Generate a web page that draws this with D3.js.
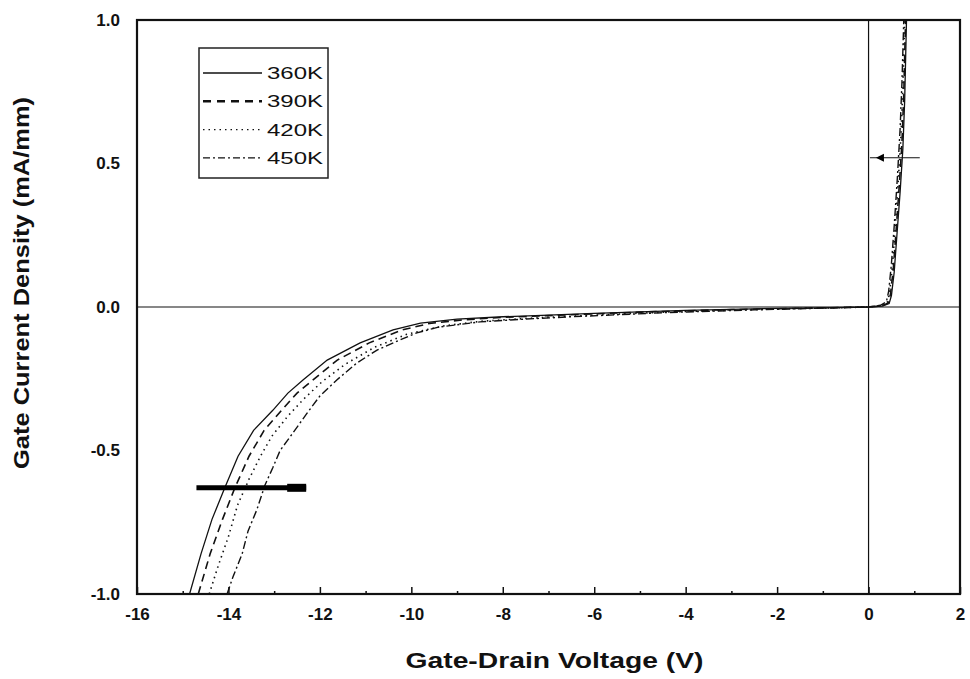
<!DOCTYPE html>
<html>
<head>
<meta charset="utf-8">
<script src="https://cdn.jsdelivr.net/npm/d3@7/dist/d3.min.js"></script>
<style>
  html, body { margin: 0; padding: 0; background: #fff; }
  svg { display: block; }
  text { font-family: "Liberation Sans", Arial, sans-serif; fill: #111; }
</style>
</head>
<body>
<svg id="chart" width="970" height="679"></svg>
<script>
// Gate current density vs gate-drain voltage at four temperatures
const temps = ["360K", "390K", "420K", "450K"];

const v360 = [-14.85, -14.6, -14.36, -14.08, -13.79, -13.45, -13.03, -12.7, -12.37, -11.84, -11.12, -10.4, -9.8, -9.0, -8.0, -7.0, -6.0, -5.0, -4.0, -3.0, -2.0, -1.0, 0.0, 0.3, 0.45, 0.5, 0.56, 0.62, 0.69, 0.75, 0.79, 0.81, 0.83];
const i360 = [-1.0, -0.86, -0.74, -0.63, -0.52, -0.43, -0.36, -0.30, -0.254, -0.185, -0.125, -0.08, -0.056, -0.042, -0.034, -0.028, -0.022, -0.017, -0.012, -0.008, -0.005, -0.003, 0.0, 0.003, 0.012, 0.04, 0.12, 0.25, 0.4, 0.55, 0.72, 0.86, 1.0];

const v390 = [-14.66, -14.4, -14.13, -13.86, -13.55, -13.22, -12.84, -12.5, -12.15, -11.62, -10.92, -10.2, -9.6, -8.8, -8.0, -7.0, -6.0, -5.0, -4.0, -3.0, -2.0, -1.0, 0.0, 0.3, 0.43, 0.48, 0.54, 0.6, 0.67, 0.73, 0.77, 0.79, 0.81];
const i390 = [-1.0, -0.86, -0.74, -0.63, -0.52, -0.43, -0.36, -0.30, -0.254, -0.185, -0.125, -0.08, -0.057, -0.044, -0.036, -0.03, -0.024, -0.018, -0.013, -0.009, -0.006, -0.003, 0.0, 0.004, 0.014, 0.045, 0.13, 0.26, 0.42, 0.57, 0.74, 0.87, 1.0];

const v420 = [-14.42, -14.22, -14.0, -13.8, -13.55, -13.3, -13.05, -12.7, -12.35, -11.95, -11.45, -10.8, -10.1, -9.3, -8.5, -7.5, -6.5, -5.5, -4.5, -3.5, -2.5, -1.5, -0.5, 0.0, 0.28, 0.41, 0.46, 0.52, 0.58, 0.65, 0.71, 0.75, 0.77, 0.79];
const i420 = [-1.0, -0.9, -0.8, -0.69, -0.6, -0.52, -0.45, -0.38, -0.32, -0.26, -0.2, -0.14, -0.095, -0.066, -0.05, -0.04, -0.032, -0.025, -0.018, -0.013, -0.009, -0.005, -0.002, 0.0, 0.005, 0.016, 0.05, 0.14, 0.27, 0.44, 0.6, 0.76, 0.88, 1.0];

const v450 = [-14.03, -13.9, -13.7, -13.57, -13.38, -13.2, -13.03, -12.87, -12.7, -12.28, -12.0, -11.63, -11.19, -10.75, -10.25, -9.88, -9.4, -8.5, -7.5, -6.5, -5.5, -4.5, -3.5, -2.5, -1.5, -0.5, 0.0, 0.26, 0.39, 0.44, 0.5, 0.56, 0.63, 0.69, 0.73, 0.75, 0.77];
const i450 = [-1.0, -0.94, -0.86, -0.78, -0.707, -0.62, -0.56, -0.50, -0.463, -0.37, -0.31, -0.254, -0.195, -0.15, -0.115, -0.09, -0.07, -0.052, -0.042, -0.034, -0.027, -0.02, -0.015, -0.01, -0.006, -0.002, 0.0, 0.006, 0.018, 0.055, 0.15, 0.28, 0.45, 0.62, 0.78, 0.89, 1.0];

const xTicks = [-16, -14, -12, -10, -8, -6, -4, -2, 0, 2];
const xMinor = [-15, -13, -11, -9, -7, -5, -3, -1, 1];
const yTicks = [-1.0, -0.5, 0.0, 0.5, 1.0];

// sweep-direction arrows: [V start, V end, I]
const arrowReverse = [-14.7, -12.3, -0.63];
const arrowForward = [1.12, 0.03, 0.52];

const styles = ["none", "8,5", "1.5,4", "8,3,2,3"];
const widths = [1.3, 1.6, 1.6, 1.4];

const m = { left: 137, right: 960, top: 20, bottom: 594 };

const svg = d3.select("#chart");
const x = d3.scaleLinear().domain([-16, 2]).range([m.left, m.right]);
const y = d3.scaleLinear().domain([-1, 1]).range([m.bottom, m.top]);

// plain hyphen for negative tick labels
const fmtX = d => String(d);
const fmtY = d => d.toFixed(1);

const defs = svg.append("defs");
defs.append("clipPath").attr("id", "plot")
  .append("rect").attr("x", m.left).attr("y", m.top)
  .attr("width", m.right - m.left).attr("height", m.bottom - m.top);

// zero reference lines
svg.append("line").attr("x1", m.left).attr("x2", m.right)
  .attr("y1", y(0)).attr("y2", y(0)).attr("stroke", "#111").attr("stroke-width", 1.2);
svg.append("line").attr("x1", x(0)).attr("x2", x(0))
  .attr("y1", m.top).attr("y2", m.bottom).attr("stroke", "#111").attr("stroke-width", 1.2);

// curves
const series = [[v360, i360], [v390, i390], [v420, i420], [v450, i450]];
const line = d3.line().x(d => x(d[0])).y(d => y(d[1]));
const gCurves = svg.append("g").attr("clip-path", "url(#plot)");
series.forEach(([vs, is], k) => {
  gCurves.append("path")
    .attr("d", line(vs.map((v, j) => [v, is[j]])))
    .attr("fill", "none")
    .attr("stroke", "#111")
    .attr("stroke-width", widths[k])
    .attr("stroke-dasharray", styles[k]);
});

// arrows
const aR = arrowReverse;
svg.append("line").attr("x1", x(aR[0])).attr("x2", x(aR[1]))
  .attr("y1", y(aR[2])).attr("y2", y(aR[2]))
  .attr("stroke", "#000").attr("stroke-width", 5);
svg.append("rect").attr("x", x(aR[1]) - 19).attr("y", y(aR[2]) - 4)
  .attr("width", 19).attr("height", 8).attr("fill", "#000");

const aF = arrowForward;
svg.append("line").attr("x1", x(aF[0])).attr("x2", x(aF[1]))
  .attr("y1", y(aF[2])).attr("y2", y(aF[2]))
  .attr("stroke", "#111").attr("stroke-width", 1.2);
const hx = x(aF[1]) + 10, hy = y(aF[2]);
svg.append("path")
  .attr("d", `M${hx - 4},${hy} L${hx + 4},${hy - 4} L${hx + 4},${hy + 4} Z`)
  .attr("fill", "#000");

// axes
const xAxis = d3.axisBottom(x).tickValues(xTicks).tickSize(-7).tickPadding(14)
  .tickFormat(fmtX);
const gx = svg.append("g").attr("transform", `translate(0,${m.bottom})`).call(xAxis);
gx.select(".domain").remove();
gx.selectAll(".tick line").attr("stroke", "#111").attr("stroke-width", 1.5);
gx.selectAll("text").attr("font-size", 17).attr("font-weight", "bold").attr("fill", "#111")
  .attr("dy", "0.71em");

const gxm = svg.append("g").attr("transform", `translate(0,${m.bottom})`)
  .call(d3.axisBottom(x).tickValues(xMinor).tickSize(-3).tickFormat(""));
gxm.select(".domain").remove();
gxm.selectAll(".tick line").attr("stroke", "#111").attr("stroke-width", 1.5);

const yAxis = d3.axisLeft(y).tickValues(yTicks).tickSize(0).tickPadding(17)
  .tickFormat(fmtY);
const gy = svg.append("g").attr("transform", `translate(${m.left},0)`).call(yAxis);
gy.select(".domain").remove();
gy.selectAll("text").attr("font-size", 17).attr("font-weight", "bold").attr("fill", "#111");

// frame
svg.append("rect").attr("x", m.left).attr("y", m.top)
  .attr("width", m.right - m.left).attr("height", m.bottom - m.top)
  .attr("fill", "none").attr("stroke", "#111").attr("stroke-width", 2.2);

// axis titles
svg.append("text").attr("x", (m.left + m.right) / 2 + 6).attr("y", 668)
  .attr("text-anchor", "middle").attr("font-size", 22).attr("font-weight", "bold")
  .attr("textLength", 298).attr("lengthAdjust", "spacingAndGlyphs")
  .text("Gate-Drain Voltage (V)");

svg.append("text")
  .attr("transform", `translate(29,${283}) rotate(-90)`)
  .attr("text-anchor", "middle").attr("font-size", 22).attr("font-weight", "bold")
  .attr("textLength", 372).attr("lengthAdjust", "spacingAndGlyphs")
  .text("Gate Current Density (mA/mm)");

// legend
const lg = svg.append("g");
lg.append("rect").attr("x", 199).attr("y", 48).attr("width", 129).attr("height", 130)
  .attr("fill", "#fff").attr("stroke", "#222").attr("stroke-width", 1.5);
temps.forEach((t, k) => {
  const ly = 73 + k * 28.3;
  lg.append("line").attr("x1", 203).attr("x2", 262).attr("y1", ly).attr("y2", ly)
    .attr("stroke", "#111").attr("stroke-width", k === 1 ? 2.4 : 1.3)
    .attr("stroke-dasharray", k === 0 ? "none" : (k === 1 ? "8,6" : (k === 2 ? "1.5,4" : "7,3,2,3")));
  lg.append("text").attr("x", 267).attr("y", ly).attr("dy", "0.36em")
    .attr("font-size", 17).attr("fill", "#333")
    .attr("textLength", 56).attr("lengthAdjust", "spacingAndGlyphs")
    .text(t);
});
</script>
</body>
</html>
